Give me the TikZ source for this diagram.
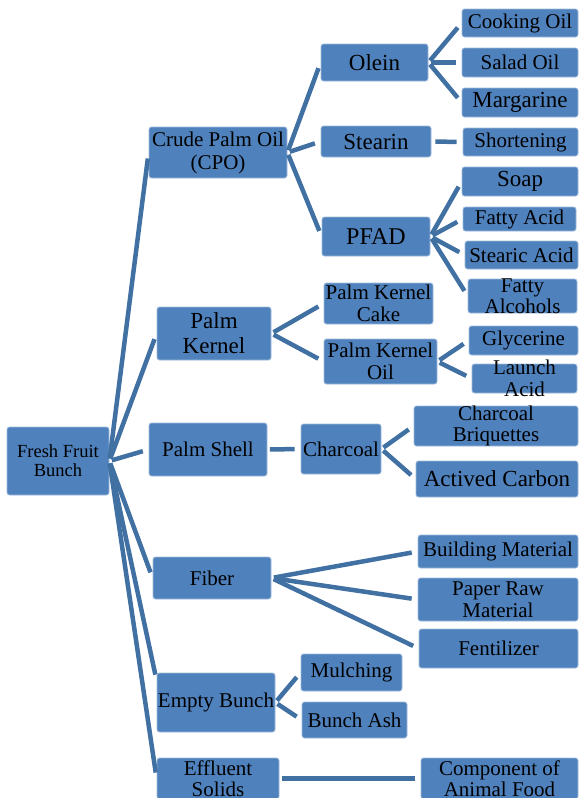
\documentclass[tikz,border=0pt]{standalone}
\usepackage{fontspec}
\setmainfont{Liberation Serif}
\usepackage{tikz}
\usetikzlibrary{arrows.meta}

\definecolor{boxblue}{RGB}{79,129,189}
\definecolor{linkblue}{RGB}{65,112,163}

\begin{document}
\begin{tikzpicture}[
  x=1pt,
  y=-1pt,
  item/.style={draw=white!45!boxblue, line width=0.8pt, fill=boxblue,
    rounded corners=2.5pt, inner xsep=0pt, inner ysep=-6pt, align=center,
    text=black, font=\fontsize{21}{21.5}\selectfont},
  big/.style={item, font=\fontsize{23}{24}\selectfont},
  sz/.style 2 args={minimum width=#1pt, minimum height=#2pt},
  link/.style={line width=4.5pt, draw=linkblue, shorten <=2.5pt, shorten >=6pt}
]
\useasboundingbox (0,0) rectangle (580,798);

% Root and first level products.
\node[item, sz={102}{68}, font=\fontsize{18.5}{19}\selectfont] (ffb) at (58,461)
  {Fresh Fruit\\Bunch};
\node[item, sz={138}{51}, font=\fontsize{21}{23}\selectfont] (cpo) at (218,152.5)
  {Crude Palm Oil\\(CPO)};
\node[big, sz={114}{53}, font=\fontsize{23}{25}\selectfont] (pk) at (214,333.5)
  {Palm\\Kernel};
\node[item, sz={118}{53}] (ps) at (208,449.5) {Palm Shell};
\node[item, sz={118}{42}] (fib) at (212,578) {Fiber};
\node[item, sz={118}{59}] (eb) at (216,702.5) {Empty Bunch};
\node[item, sz={122}{41}] (es) at (218,778.5) {Effluent\\Solids};

% Crude palm oil branch.
\node[big, sz={107}{37}] (olein) at (374.5,62.5) {Olein};
\node[big, sz={110}{31}] (stearin) at (376,141.5) {Stearin};
\node[big, sz={108}{39}, font=\fontsize{24}{25}\selectfont] (pfad) at (376,236.5) {PFAD};
\node[item, sz={116}{28}] (cook) at (520,23) {Cooking Oil};
\node[item, sz={116}{29}] (salad) at (520,62.5) {Salad Oil};
\node[big, sz={116}{29}] (marg) at (520,102.5) {Margarine};
\node[item, sz={115}{28}] (short) at (520.5,142) {Shortening};
\node[big, sz={116}{29}] (soap) at (520,181.5) {Soap};
\node[item, sz={113}{24}] (facid) at (519.5,219) {Fatty Acid};
\node[item, sz={113}{28}] (sacid) at (521.5,255) {Stearic Acid};
\node[item, sz={109}{34}] (falc) at (522.5,296) {Fatty\\Alcohols};

% Palm kernel branch.
\node[item, sz={109}{41}] (pkc) at (378.5,303.5) {Palm Kernel\\Cake};
\node[item, sz={113}{45}] (pko) at (380.5,361.5) {Palm Kernel\\Oil};
\node[item, sz={109}{29}] (glyc) at (523.5,340.5) {Glycerine};
\node[item, sz={105}{29}] (launch) at (524.5,378.5) {Launch\\Acid};

% Palm shell branch.
\node[item, sz={80}{50}] (char) at (341,449) {Charcoal};
\node[item, sz={164}{40}] (cbriq) at (496,426) {Charcoal\\Briquettes};
\node[big, sz={162}{36}] (acarb) at (497,479) {Actived Carbon};

% Fiber, empty bunch and effluent branches.
\node[item, sz={160}{33}] (build) at (498,551.5) {Building Material};
\node[item, sz={160}{43}] (paper) at (498,599.5) {Paper Raw\\Material};
\node[item, sz={159}{39}] (fent) at (498.5,648.5) {Fentilizer};
\node[item, sz={101}{37}] (mulch) at (351.5,672.5) {Mulching};
\node[item, sz={105}{36}] (bash) at (354.5,720) {Bunch Ash};
\node[item, sz={157}{41}] (comp) at (499.5,778.5) {Component of\\Animal Food};

% Connectors from the root.
\draw[link] (ffb.east) -- (cpo.west);
\draw[link] (ffb.east) -- (pk.west);
\draw[link] (ffb.east) -- (ps.west);
\draw[link] (ffb.east) -- (fib.west);
\draw[link] (ffb.east) -- ([shift={(0,-22)}]eb.west);
\draw[link] (ffb.east) -- (es.west);

% Connectors inside the branches.
\draw[link] (cpo.east) -- (olein.west);
\draw[link] (cpo.east) -- (stearin.west);
\draw[link] (cpo.east) -- (pfad.west);
\draw[link] (olein.east) -- (cook.west);
\draw[link] (olein.east) -- (salad.west);
\draw[link] (olein.east) -- (marg.west);
\draw[link, shorten <=4pt] (stearin.east) -- (short.west);
\draw[link] (pfad.east) -- (soap.west);
\draw[link] (pfad.east) -- (facid.west);
\draw[link] (pfad.east) -- (sacid.west);
\draw[link] (pfad.east) -- (falc.west);
\draw[link] (pk.east) -- (pkc.west);
\draw[link] (pk.east) -- (pko.west);
\draw[link] (pko.east) -- (glyc.west);
\draw[link] (pko.east) -- (launch.west);
\draw[link] (ps.east) -- (char.west);
\draw[link] (char.east) -- (cbriq.west);
\draw[link] (char.east) -- (acarb.west);
\draw[link] (fib.east) -- (build.west);
\draw[link] (fib.east) -- (paper.west);
\draw[link] (fib.east) -- (fent.west);
\draw[link] (eb.east) -- (mulch.west);
\draw[link] (eb.east) -- (bash.west);
\draw[link] (es.east) -- (comp.west);

\end{tikzpicture}
\end{document}
